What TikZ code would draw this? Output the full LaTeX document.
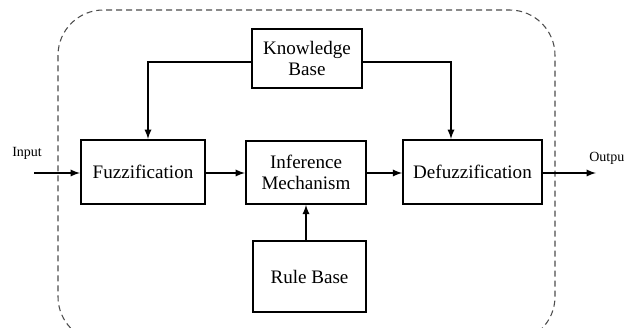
\documentclass[tikz,border=0pt]{standalone}
\usepackage{fontspec}
\setmainfont{Liberation Serif}
\usetikzlibrary{shapes,arrows}

\begin{document}
\begin{tikzpicture}[x=0.75pt, y=-0.75pt]
\tikzstyle{blockr}=[rectangle, draw=black, line width=1.5pt, inner sep=2pt, align=center, font=\fontsize{14.3}{16}\selectfont]
\tikzstyle{drawstyle}=[line width=1.4pt, -latex]
\tikzstyle{labelstyle}=[inner sep=0pt, font=\fontsize{10.5}{12}\selectfont]

\useasboundingbox (0,0) rectangle (626,328);
\begin{scope}
\clip (0,0) rectangle (626,328);
\draw[gray!60!black, line width=0.8pt, dash pattern=on 4.5pt off 3pt, rounded corners=34pt] (58,10) rectangle (555,342);
\end{scope}

\node[blockr, minimum width=82.5pt, minimum height=44pt] (kb) at (307,58.5) {Knowledge\\Base};
\node[blockr, minimum width=93pt, minimum height=48pt] (fuzz) at (143,172) {Fuzzification};
\node[blockr, minimum width=90pt, minimum height=47pt] (infer) at (306,172.5) {Inference\\Mechanism};
\node[blockr, minimum width=104pt, minimum height=48pt] (defuzz) at (472.5,172) {Defuzzification};
\node[blockr, minimum width=85pt, minimum height=53pt] (rule) at (309.5,276.5) {Rule Base};

\node[labelstyle, anchor=west] (in) at (12,153) {Input};
\node[labelstyle, anchor=west] (out) at (589,158) {Outpu};
\coordinate (inS) at (34,173);
\coordinate (outE) at (596,173);
\coordinate (turnL) at (148,62);
\coordinate (turnR) at (451,62);

\draw[drawstyle] (inS) -- (inS -| fuzz.west);
\draw[drawstyle] (fuzz.east |- inS) -- (infer.west |- inS);
\draw[drawstyle] (infer.east |- inS) -- (defuzz.west |- inS);
\draw[drawstyle] (defuzz.east |- inS) -- (outE);
\draw[drawstyle] (kb.west |- turnL) -- (turnL) -- (turnL |- fuzz.north);
\draw[drawstyle] (kb.east |- turnR) -- (turnR) -- (turnR |- defuzz.north);
\draw[drawstyle] (rule.north -| infer) -- (infer.south);
\end{tikzpicture}
\end{document}
